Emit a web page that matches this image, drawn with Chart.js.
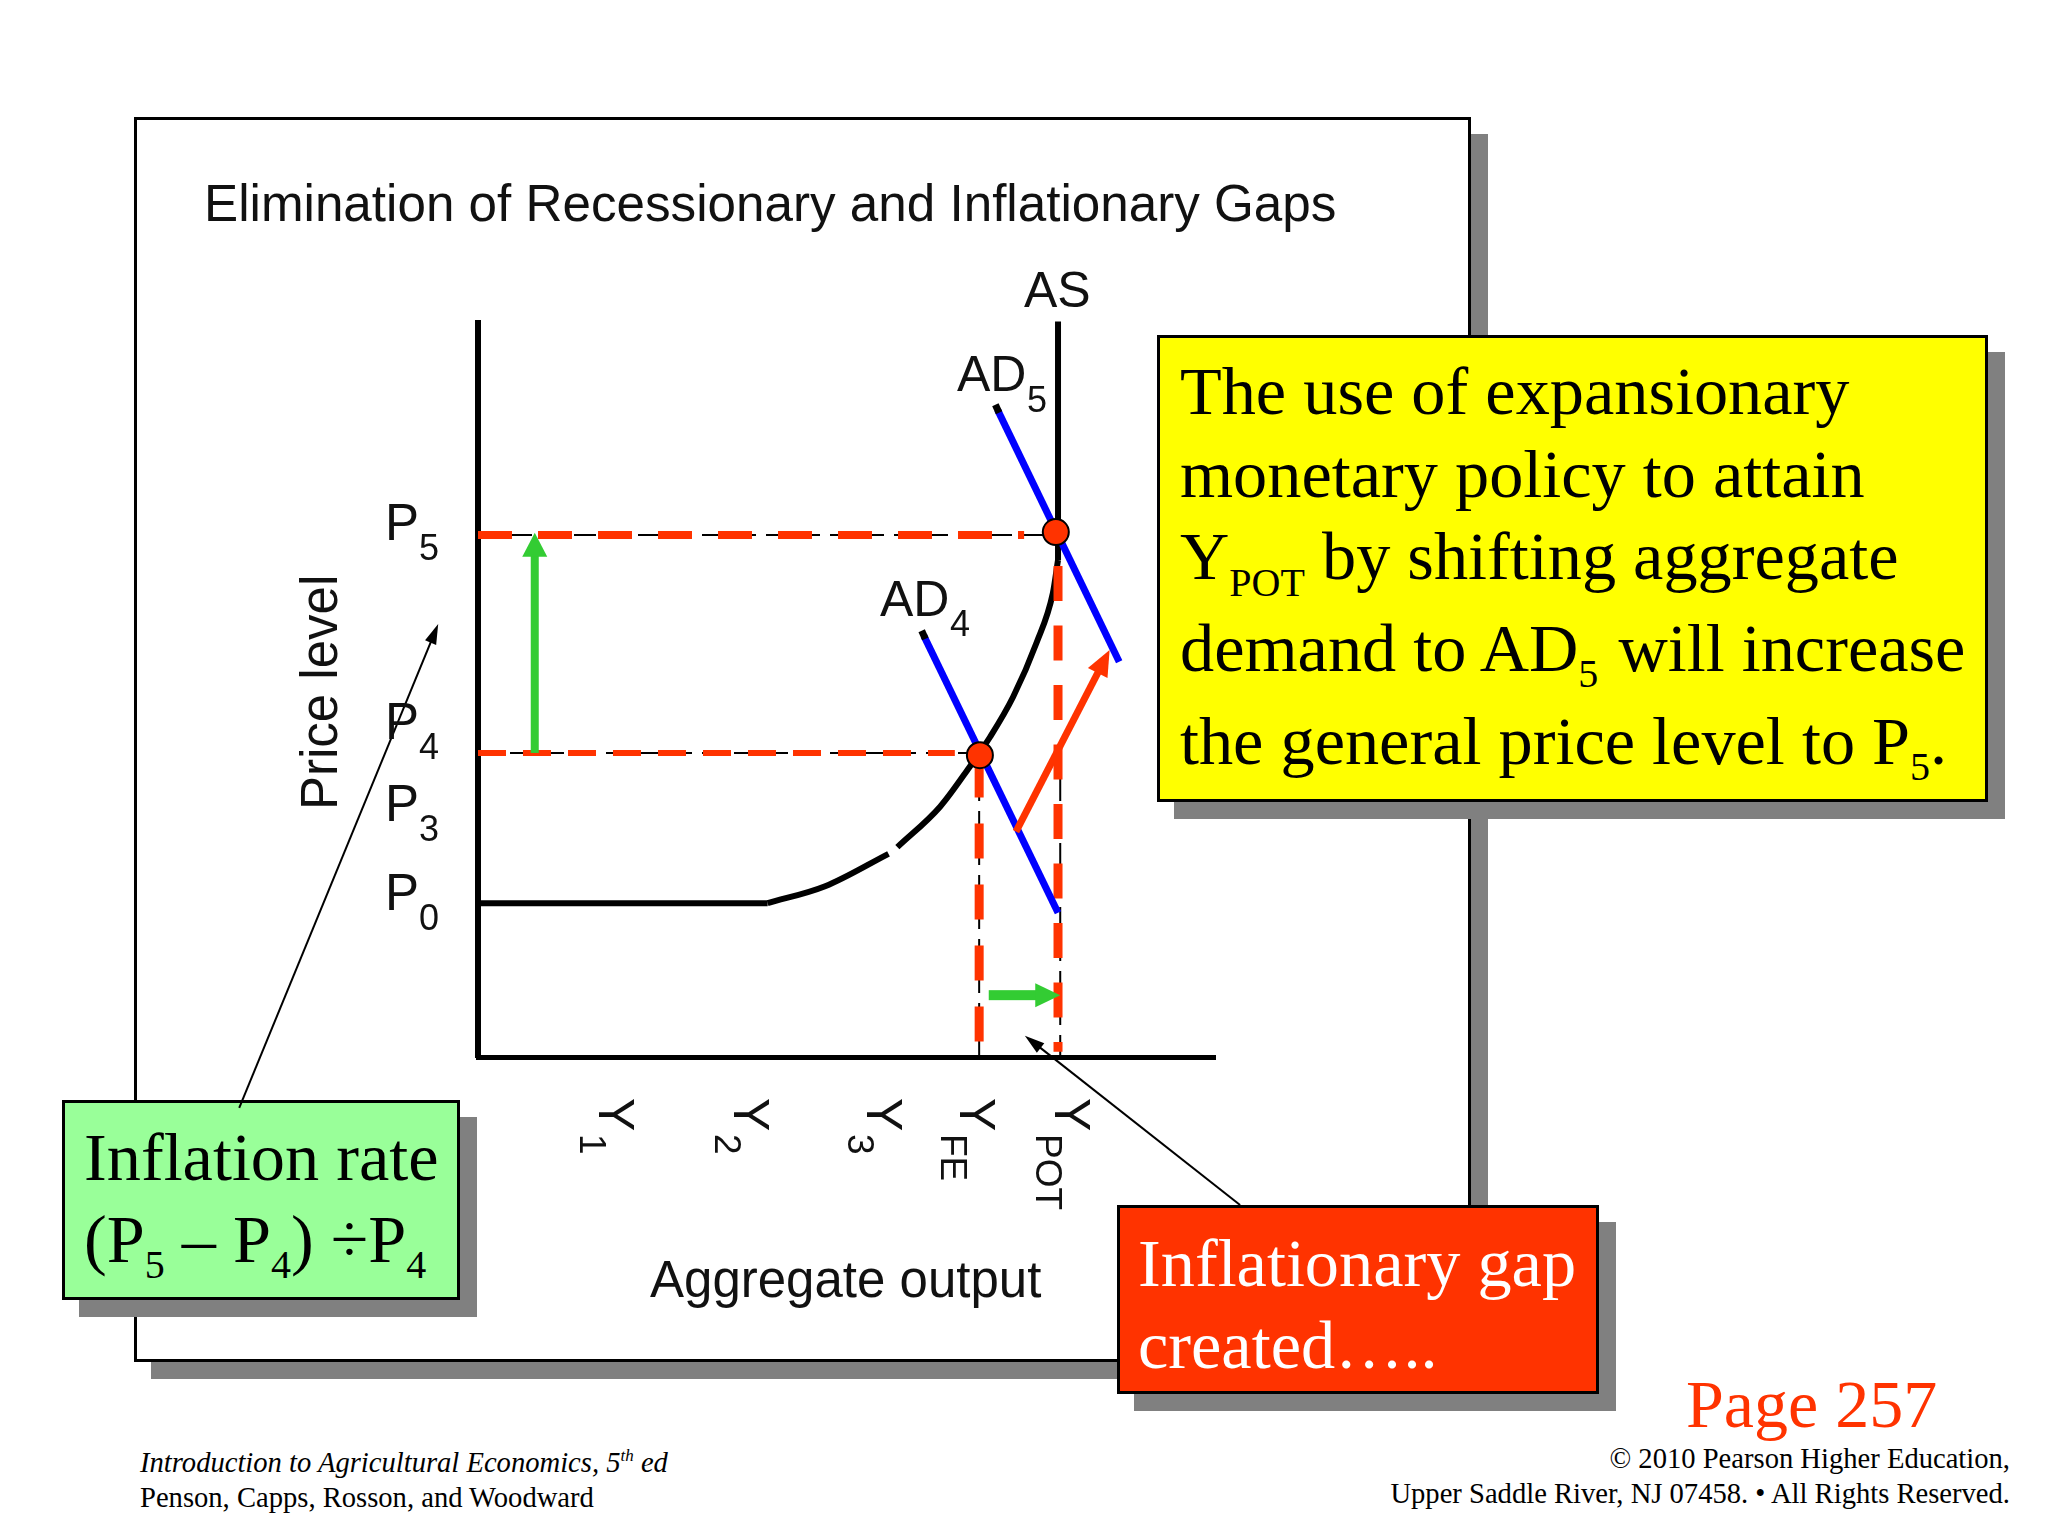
<!DOCTYPE html>
<html>
<head>
<meta charset="utf-8">
<title>Elimination of Recessionary and Inflationary Gaps</title>
<script src="https://cdn.jsdelivr.net/npm/chart.js@4"></script>
<style>
  html, body { margin: 0; padding: 0; background: #fff; }
  #page { position: relative; width: 2048px; height: 1536px; overflow: hidden; }
  #chart { position: absolute; left: 0; top: 0; }
  .shadow { position: absolute; background: #808080; }
  .box { position: absolute; box-sizing: border-box; border: 3px solid #000; }
  .line { position: absolute; white-space: pre; font-family: "Liberation Serif", serif; line-height: 1em; }
  .sub { position: relative; }
</style>
</head>
<body>
<div id="page"><canvas id="chart" width="2048" height="1536"></canvas></div>
<script>
// values, both axes run from 0 to about 100
const outputLabels = ['1', '2', '3', 'FE', 'POT'];
const outputTicks = [18.9, 37.2, 55.2, 67.8, 80.7];
const priceLabels = ['5', '4', '3', '0'];
const priceTicks = [70.2, 43.2, 32, 19.9];

const asFlatX = [0, 39.3];
const asFlatY = [20.9, 20.9];
const asCurveX = [39.3, 47.1, 55.7, 55.7, 56.9, 62.7, 66.7, 69.5, 72.6, 75.8, 78, 78.7];
const asCurveY = [20.9, 23.2, 27.6, null, 28.5, 34, 39.4, 43.5, 48.9, 56.3, 63, 67.5];
const asTopX = [78.7, 78.7];
const asTopY = [67.5, 99.9];
const ad4X = [60.5, 78.7];
const ad4Y = [57.2, 19.6];
const ad4TipX = [60.2, 60.7];
const ad4TipY = [57.9, 56.8];
const ad5X = [70.5, 87];
const ad5Y = [87.9, 53.7];
const ad5TipX = [70.2, 70.7];
const ad5TipY = [88.6, 87.5];
const equilibriumX = [78.4, 68.1];
const equilibriumY = [71.3, 41];

const p5LevelX = [0, 78.7];
const p5LevelY = [70.9, 70.9];
const p5GuideX = [0, 74.1];
const p4LevelX = [0, 68];
const p4LevelY = [41.3, 41.3];
const p4GuideX = [0, 64.7];
const feLevelX = [68, 68];
const feLevelY = [0, 41];
const feGuideY = [2.1, 41];
const potLevelX = [79, 79];
const potLevelY = [0, 43];
const potGuideX = [78.7, 78.7];
const potGuideY = [66.7, 0.7];

const priceArrowX = [7.7, 7.7];
const priceArrowY = [41.3, 71.2];
const gapArrowX = [69.3, 79];
const gapArrowY = [8.4, 8.4];
const shiftArrowX = [73, 85.7];
const shiftArrowY = [30.6, 55.3];
const inflationLeaderX = [-32.4, -5.4];
const inflationLeaderY = [-6.9, 58.8];
const gapLeaderX = [103.4, 74.2];
const gapLeaderY = [-20.1, 2.9];

const RED = '#ff3300';
const SANS = '"Liberation Sans", Arial, sans-serif';
const page = document.getElementById('page');
const chartCanvas = document.getElementById('chart');

function addBox(left, top, right, bottom, fill) {
  const shadow = document.createElement('div');
  shadow.className = 'shadow';
  shadow.style.cssText = `left:${left + 17}px;top:${top + 17}px;width:${right - left}px;height:${bottom - top}px`;
  page.insertBefore(shadow, chartCanvas);
  const box = document.createElement('div');
  box.className = 'box';
  box.style.cssText = `left:${left}px;top:${top}px;width:${right - left}px;height:${bottom - top}px;background:${fill}`;
  page.insertBefore(box, chartCanvas);
}

// baseline is where the letters sit, Liberation Serif puts it .8375em down a 1em line
function addLine(html, x, baseline, size, color, extra) {
  const line = document.createElement('div');
  line.className = 'line';
  line.innerHTML = html;
  line.style.cssText = `left:${x}px;top:${baseline - 0.8375 * size}px;font-size:${size}px;color:${color || '#000'};${extra || ''}`;
  page.insertBefore(line, chartCanvas);
  return line;
}

function sub(text, size, drop, gap) {
  return `<span class="sub" style="font-size:${size}px;top:${drop}px;margin-right:${gap || 0}px">${text}</span>`;
}

addBox(134, 117, 1471, 1362, '#fff');
addBox(1157, 335, 1988, 802, '#ffff00');
addBox(62, 1100, 460, 1300, '#99ff99');
addBox(1117, 1205, 1599, 1394, RED);

addLine('The use of expansionary', 1180, 414, 68.3);
addLine('monetary policy to attain', 1180, 497, 68.3);
addLine('Y' + sub('POT', 40, 17) + ' by shifting aggregate', 1180, 579, 68.3);
addLine('demand to AD' + sub('5', 40, 16, 3) + ' will increase', 1180, 671, 68.3);
addLine('the general price level to P' + sub('5', 40, 16) + '.', 1180, 764, 68.3);

addLine('Inflation rate', 84, 1180, 68.3);
addLine('(P' + sub('5', 40, 16) + ' – P' + sub('4', 40, 16) + ') ÷P' + sub('4', 40, 16), 84, 1262, 68.3);

addLine('Inflationary gap', 1138, 1286, 68.3, '#fff');
addLine('created…..', 1138, 1368, 68.3, '#fff');

addLine('Page 257', 1686, 1427, 68, RED);
addLine('<i>Introduction to Agricultural Economics, 5<sup style="font-size:17px;line-height:0">th</sup> ed</i>', 140, 1473, 28.6);
addLine('Penson, Capps, Rosson, and Woodward', 140, 1508, 28.6);
addLine('© 2010 Pearson Higher Education,', 0, 1469, 28.6, '#000', 'left:auto;right:38px');
addLine('Upper Saddle River, NJ 07458. • All Rights Reserved.', 0, 1504, 28.6, '#000', 'left:auto;right:38px');

function line(xs, ys, color, width, dash) {
  return {
    data: xs.map((x, i) => ({ x: x, y: ys[i] })),
    showLine: true,
    borderColor: color,
    borderWidth: width,
    borderDash: dash || [],
    borderCapStyle: 'butt',
    pointRadius: 0,
    clip: false
  };
}

function arrow(xs, ys, color, width, headLength, headWidth) {
  return {
    data: xs.map((x, i) => ({ x: x, y: ys[i] })),
    showLine: false,
    pointRadius: 0,
    clip: false,
    arrow: { color: color, width: width, headLength: headLength, headWidth: headWidth }
  };
}

// the shaft has to stop at the base of the head, so arrows get drawn here
const arrowPlugin = {
  id: 'arrows',
  afterDatasetsDraw(chart) {
    const ctx = chart.ctx;
    chart.data.datasets.forEach((ds, i) => {
      if (!ds.arrow) return;
      const pts = chart.getDatasetMeta(i).data;
      const a = ds.arrow;
      const angle = Math.atan2(pts[1].y - pts[0].y, pts[1].x - pts[0].x);
      const length = Math.hypot(pts[1].x - pts[0].x, pts[1].y - pts[0].y);
      ctx.save();
      ctx.translate(pts[0].x, pts[0].y);
      ctx.rotate(angle);
      ctx.fillStyle = a.color;
      ctx.fillRect(0, -a.width / 2, length - a.headLength + 1, a.width);
      ctx.beginPath();
      ctx.moveTo(length, 0);
      ctx.lineTo(length - a.headLength, -a.headWidth / 2);
      ctx.lineTo(length - a.headLength, a.headWidth / 2);
      ctx.closePath();
      ctx.fill();
      ctx.restore();
    });
  }
};

function label(ctx, text, x, y, size, rotation) {
  ctx.save();
  ctx.translate(x, y);
  ctx.rotate(rotation || 0);
  ctx.font = size + 'px ' + SANS;
  ctx.fillStyle = '#111';
  ctx.textAlign = 'left';
  ctx.textBaseline = 'alphabetic';
  ctx.fillText(text, 0, 0);
  ctx.restore();
}

// Chart.js ticks can't do subscripts, so the labels go through the scales here
const labelPlugin = {
  id: 'labels',
  afterDraw(chart) {
    const ctx = chart.ctx;
    const xScale = chart.scales.x;
    const yScale = chart.scales.y;
    label(ctx, 'Elimination of Recessionary and Inflationary Gaps', 204, 221, 51.2);
    label(ctx, 'Aggregate output', 650, 1297, 51);
    label(ctx, 'Price level', 337, 810, 51, -Math.PI / 2);
    label(ctx, 'AS', 1024, 307, 50);
    label(ctx, 'AD', 957, 391, 50);
    label(ctx, '5', 1027, 412, 36);
    label(ctx, 'AD', 880, 616, 50);
    label(ctx, '4', 950, 636, 36);
    outputTicks.forEach((v, i) => {
      const px = xScale.getPixelForValue(v);
      label(ctx, 'Y', px - 18, 1098, 50, Math.PI / 2);
      label(ctx, outputLabels[i], px - 37, 1134, 37, Math.PI / 2);
    });
    priceTicks.forEach((v, i) => {
      const py = yScale.getPixelForValue(v);
      label(ctx, 'P', 385, py, 51);
      label(ctx, priceLabels[i], 419, py + 20, 36);
    });
  }
};

const asCurve = line(asCurveX, asCurveY, '#000', 6);
asCurve.cubicInterpolationMode = 'monotone';

new Chart(chartCanvas, {
  type: 'scatter',
  data: {
    datasets: [
      {
        data: equilibriumX.map((x, i) => ({ x: x, y: equilibriumY[i] })),
        pointRadius: 13,
        pointBackgroundColor: RED,
        pointBorderColor: '#000',
        pointBorderWidth: 2,
        clip: false
      },
      arrow(priceArrowX, priceArrowY, '#33cc33', 8, 24, 25),
      arrow(gapArrowX, gapArrowY, '#33cc33', 10, 25, 24),
      arrow(shiftArrowX, shiftArrowY, RED, 7, 26, 22),
      arrow(inflationLeaderX, inflationLeaderY, '#000', 2, 20, 12),
      arrow(gapLeaderX, gapLeaderY, '#000', 2, 20, 12),
      line(ad5TipX, ad5TipY, '#000', 7),
      line(ad4TipX, ad4TipY, '#000', 7),
      line(ad5X, ad5Y, '#0000ff', 7),
      line(ad4X, ad4Y, '#0000ff', 7),
      line(p5GuideX, p5LevelY, RED, 8, [34, 26]),
      line(p4GuideX, p4LevelY, RED, 6, [28, 17]),
      line(feLevelX, feGuideY, RED, 9, [35, 26]),
      line(potGuideX, potGuideY, RED, 9, [35, 24.5]),
      line(p5LevelX, p5LevelY, '#000', 2, [22, 10]),
      line(p4LevelX, p4LevelY, '#000', 2, [22, 10]),
      line(feLevelX, feLevelY, '#000', 2, [22, 10]),
      line(potLevelX, potLevelY, '#000', 2, [22, 10]),
      line(asTopX, asTopY, '#000', 6),
      line(asFlatX, asFlatY, '#000', 6),
      asCurve
    ]
  },
  options: {
    responsive: false,
    devicePixelRatio: 1,
    animation: false,
    layout: { padding: { left: 478, right: 833, top: 323, bottom: 479 } },
    plugins: { legend: { display: false }, tooltip: { enabled: false } },
    scales: {
      x: {
        min: 0,
        max: 100,
        ticks: { display: false },
        grid: { display: false, drawTicks: false },
        border: { color: '#000', width: 5 }
      },
      y: {
        min: 0,
        max: 99.7,
        ticks: { display: false },
        grid: { display: false, drawTicks: false },
        border: { color: '#000', width: 6 }
      }
    }
  },
  plugins: [arrowPlugin, labelPlugin]
});
</script>
</body>
</html>
